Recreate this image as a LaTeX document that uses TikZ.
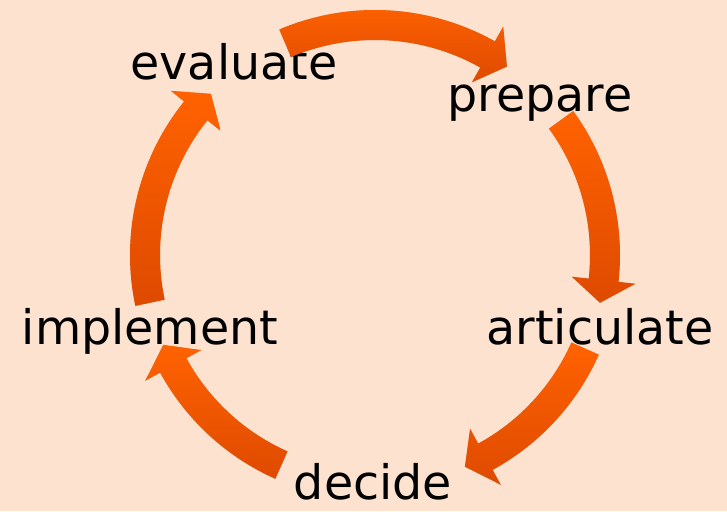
\documentclass[tikz,border=0pt]{standalone}
\usepackage{fontspec}
\setmainfont{DejaVu Sans}
\usetikzlibrary{positioning}

\definecolor{peach}{RGB}{254,226,208}
\definecolor{orangetop}{RGB}{255,98,0}
\definecolor{orangebot}{RGB}{222,74,0}

% outline of a clockwise ring arrow from angle #1 to angle #2 round (c)
\newcommand\ringpath[2]{%
    ([shift={(#1:245pt)}]c) arc[start angle=#1, end angle=#2+5.7, radius=245pt]
    -- ([shift={(#2+5.7:262pt)}]c) -- ([shift={(#2:230pt)}]c)
    -- ([shift={(#2+5.7:198pt)}]c) -- ([shift={(#2+5.7:215pt)}]c)
    arc[start angle=#2+5.7, end angle=#1, radius=215pt] -- cycle}
\newcommand\ringarrow[2]{%
  \fill[ringshadow] \ringpath{#1}{#2};
  \shade[ringfill] \ringpath{#1}{#2};}

\begin{document}
\begin{tikzpicture}[x=1pt,y=1pt,
    ringfill/.style={top color=orangetop,bottom color=orangebot},
    ringshadow/.style={black,opacity=0.18,xshift=2pt,yshift=-2.5pt},
    step label/.style={font=\fontsize{47.5}{52}\selectfont,anchor=base,inner sep=0pt}]

  \useasboundingbox[fill=peach] (0,0) rectangle (727,511);

  \coordinate (c) at (375,256);

  \node[step label] (evaluate) at (234,431) {evaluate};
  \node[step label] (prepare) at (540,399) {prepare};
  \node[step label] (articulate) at (600,166) {articulate};
  \node[step label] (implement) at (150,166) {implement};
  \node[step label] (decide) at (373,12) {decide};

  \ringarrow{113}{55}
  \ringarrow{36}{-12}
  \ringarrow{-24}{-67}
  \ringarrow{-114}{-157}
  \ringarrow{-168}{-224.5}

\end{tikzpicture}
\end{document}
